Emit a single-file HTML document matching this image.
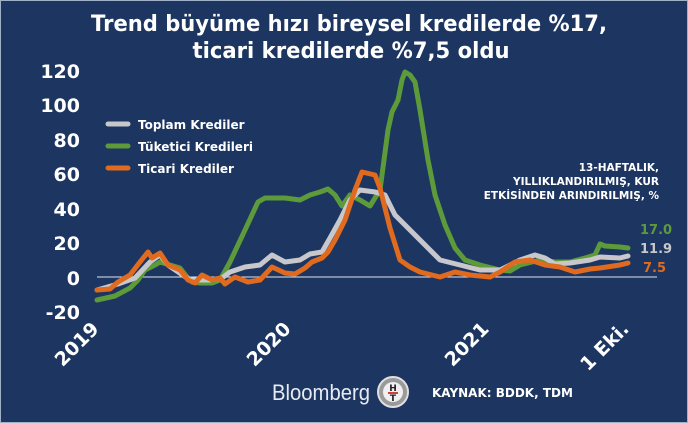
<!DOCTYPE html>
<html><head><meta charset="utf-8"><style>
html,body{margin:0;padding:0;background:#1d3561;}
svg{display:block;font-family:"DejaVu Sans","Liberation Sans",sans-serif;}
</style></head><body>
<svg width="688" height="423" viewBox="0 0 688 423" xmlns="http://www.w3.org/2000/svg">
<rect x="0" y="0" width="688" height="423" fill="#1d3561"/>
<rect x="0.5" y="0.5" width="687" height="422" fill="none" stroke="#9fb0c8" stroke-width="1"/>
<g fill="#fff" font-weight="bold" font-size="22" text-anchor="middle">
<text x="349" y="31" textLength="516" lengthAdjust="spacingAndGlyphs">Trend büyüme hızı bireysel kredilerde %17,</text>
<text x="351" y="58" textLength="317" lengthAdjust="spacingAndGlyphs">ticari kredilerde %7,5 oldu</text>
</g>
<g fill="#fff" font-weight="bold" font-size="19" text-anchor="end">
<text x="80" y="78">120</text>
<text x="80" y="112">100</text>
<text x="80" y="147">80</text>
<text x="80" y="181">60</text>
<text x="80" y="216">40</text>
<text x="80" y="250">20</text>
<text x="80" y="285">0</text>
<text x="80" y="319">-20</text>
</g>
<line x1="97" y1="277" x2="657" y2="277" stroke="#dfe6f0" stroke-width="1"/>
<g fill="none" stroke-width="5" stroke-linejoin="round" stroke-linecap="round">
<polyline stroke="#5d9a3a" points="97,300 115,296 130,288 138,280 145,270 155,265 160,262 170,265 180,268 187,277 192,282 200,283 212,283 220,280 230,262 245,230 258,202 265,198 275,198 285,198 300,200 310,195 320,192 328,189 335,195 342,206 350,195 360,200 370,206 380,190 388,130 392,112 398,100 402,80 405,72 410,75 415,82 420,110 428,160 435,195 445,225 455,248 465,260 480,265 500,270 510,271 520,265 540,260 555,262 570,262 585,258 595,255 600,244 605,246 620,247 628,248"/>
<polyline stroke="#c8c8cc" points="97,290 118,284 135,278 150,262 160,255 168,265 190,280 210,280 222,278 230,272 245,267 260,265 272,255 285,262 300,260 310,254 322,252 330,238 340,220 350,200 360,190 375,192 385,195 395,215 410,230 425,245 440,260 460,265 480,270 500,270 520,260 535,255 545,258 555,264 570,263 590,260 600,257 620,258 628,256"/>
<polyline stroke="#e06a1e" points="97,290 110,289 118,282 130,275 140,262 148,252 152,258 160,253 168,265 180,270 188,280 195,283 202,275 212,280 220,278 225,284 235,277 248,282 260,280 272,267 285,273 295,274 305,268 312,262 322,258 328,252 335,240 345,220 355,190 362,172 375,175 380,188 390,228 400,260 410,267 420,272 440,277 455,272 470,275 490,277 500,272 515,262 530,260 545,265 560,267 575,272 590,269 600,268 620,265 628,263"/>
</g>
<g stroke-width="5" stroke-linecap="round">
<line x1="108" y1="124" x2="128" y2="124" stroke="#c8c8cc"/>
<line x1="108" y1="146" x2="128" y2="146" stroke="#5d9a3a"/>
<line x1="108" y1="168" x2="128" y2="168" stroke="#e06a1e"/>
</g>
<g fill="#fff" font-weight="bold" font-size="12">
<text x="138" y="129">Toplam Krediler</text>
<text x="138" y="151">Tüketici Kredileri</text>
<text x="138" y="173">Ticari Krediler</text>
</g>
<g fill="#fff" font-weight="bold" font-size="10.5" text-anchor="end">
<text x="659" y="171">13-HAFTALIK,</text>
<text x="659" y="185">YILLIKLANDIRILMIŞ, KUR</text>
<text x="659" y="199">ETKİSİNDEN ARINDIRILMIŞ, %</text>
</g>
<g font-weight="bold" font-size="13">
<text x="640" y="234" fill="#5d9a3a">17.0</text>
<text x="640" y="253" fill="#c8c8cc">11.9</text>
<text x="643" y="272" fill="#e06a1e">7.5</text>
</g>
<g fill="#fff" font-weight="bold" font-size="19">
<text transform="translate(100,330) rotate(-45)" text-anchor="end">2019</text>
<text transform="translate(292,330) rotate(-45)" text-anchor="end">2020</text>
<text transform="translate(490,330) rotate(-45)" text-anchor="end">2021</text>
<text transform="translate(630,330) rotate(-45)" text-anchor="end">1 Eki.</text>
</g>
<text x="272" y="400" fill="#e6ebf2" font-size="22" font-family="Liberation Sans, sans-serif" textLength="98" lengthAdjust="spacingAndGlyphs">Bloomberg</text>
<circle cx="393" cy="392" r="15" fill="#9a9a9a" stroke="#e0e0e0" stroke-width="2"/>
<circle cx="393" cy="392" r="10" fill="#f0f0f0"/>
<text x="393" y="391" font-size="9" font-weight="bold" text-anchor="middle" fill="#222">H</text>
<line x1="388" y1="393" x2="398" y2="393" stroke="#c00" stroke-width="1.5"/>
<text x="393" y="401" font-size="9" font-weight="bold" text-anchor="middle" fill="#222">T</text>
<text x="432" y="397" fill="#fff" font-weight="bold" font-size="12">KAYNAK:  BDDK, TDM</text>
</svg>
</body></html>
